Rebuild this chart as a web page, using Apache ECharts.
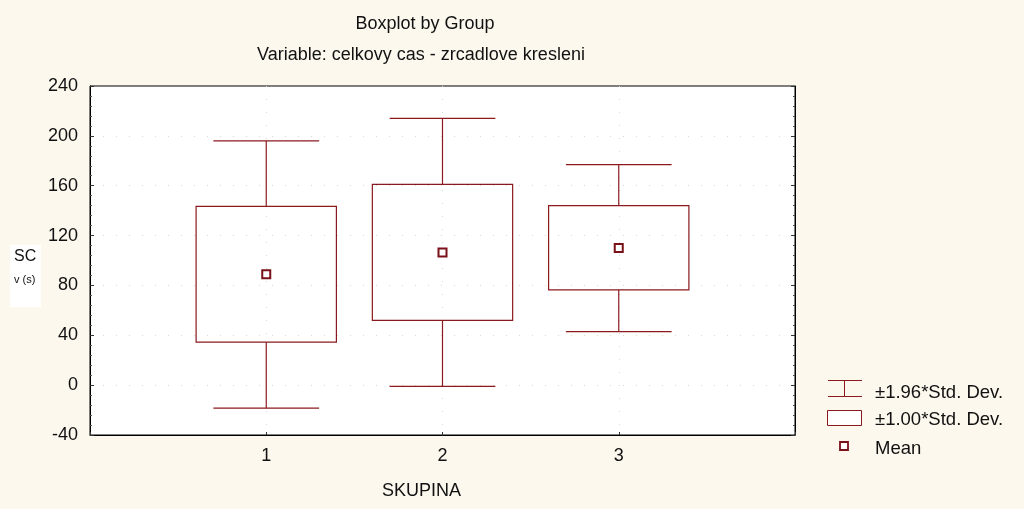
<!DOCTYPE html>
<html>
<head>
<meta charset="utf-8">
<script src="https://cdn.jsdelivr.net/npm/echarts@6/dist/echarts.min.js"></script>
<style>
  html, body { margin: 0; padding: 0; background: #fcf8ee; }
  #chart { width: 1024px; height: 509px; }
</style>
</head>
<body>
<div id="chart"></div>
<script>
// groups on the x axis
var groups = ["1", "2", "3"];
// values (s)
var whiskerLow = [-18.5, -1, 43];
var boxLow = [34.5, 52, 76.5];
var means = [89, 106.5, 110];
var boxHigh = [143.5, 161, 144];
var whiskerHigh = [196, 214, 177];
var yTicks = [-40, 0, 40, 80, 120, 160, 200, 240];

var red = "#8b1a1f";
var font = "Liberation Sans, Arial, sans-serif";

var rows = groups.map(function (g, i) {
  return [i + 1, whiskerLow[i], boxLow[i], means[i], boxHigh[i], whiskerHigh[i]];
});

var myChart = echarts.init(document.getElementById("chart"));

var dotted = { show: true, showMinLine: false, showMaxLine: false, lineStyle: { color: "#d6d6d6", type: [1, 12] } };

var yBase = {
  type: "value",
  min: yTicks[0], max: yTicks[yTicks.length - 1], interval: 40,
  axisLine: { onZero: false, lineStyle: { color: "#000" } },
  axisTick: { inside: true, length: 4, lineStyle: { color: "#333" } },
  minorTick: { show: true, splitNumber: 5, length: 2, lineStyle: { color: "#555" } }
};

var option = {
  backgroundColor: "#fcf8ee",
  animation: false,
  title: [
    {
      text: "Boxplot by Group",
      left: 420, top: 10, textAlign: "center",
      textStyle: { fontFamily: font, fontSize: 18, fontWeight: "normal", color: "#111" }
    },
    {
      text: "Variable: celkovy cas - zrcadlove kresleni",
      left: 416, top: 41, textAlign: "center",
      textStyle: { fontFamily: font, fontSize: 18, fontWeight: "normal", color: "#111" }
    }
  ],
  grid: { left: 90, right: 229, top: 86, bottom: 74, show: true, backgroundColor: "#fff", borderColor: "#000", borderWidth: 1 },
  xAxis: {
    type: "value",
    min: 0, max: 4, interval: 1,
    axisLine: { onZero: false, lineStyle: { color: "#000" } },
    axisTick: { inside: true, length: 3, lineStyle: { color: "#333" } },
    axisLabel: {
      fontFamily: font, fontSize: 18, color: "#111", margin: 12,
      formatter: function (v) { return groups[v - 1] || ""; }
    },
    splitLine: dotted
  },
  yAxis: [
    Object.assign({}, yBase, {
      axisLabel: { fontFamily: font, fontSize: 18, color: "#111", margin: 12 },
      splitLine: dotted
    }),
    Object.assign({}, yBase, {
      position: "right",
      axisLabel: { show: false },
      splitLine: { show: false }
    })
  ],
  graphic: [
    { type: "rect", left: 10, top: 245, shape: { width: 31, height: 62 }, style: { fill: "#fff" } },
    { type: "text", left: 14, top: 249, style: { text: "SC", font: "16px " + font, fill: "#111" } },
    { type: "text", left: 14, top: 274, style: { text: "v (s)", font: "11px " + font, fill: "#111" } },
    { type: "text", left: 382, top: 482, style: { text: "SKUPINA", font: "18px " + font, fill: "#111" } },
    // legend
    { type: "line", shape: { x1: 828, y1: 380.5, x2: 862, y2: 380.5 }, style: { stroke: red, lineWidth: 1 } },
    { type: "line", shape: { x1: 828, y1: 396.5, x2: 862, y2: 396.5 }, style: { stroke: red, lineWidth: 1 } },
    { type: "line", shape: { x1: 844.5, y1: 380, x2: 844.5, y2: 396 }, style: { stroke: red, lineWidth: 1 } },
    { type: "rect", shape: { x: 827.5, y: 410.5, width: 34, height: 15 }, style: { fill: "#fff", stroke: red, lineWidth: 1 } },
    { type: "rect", shape: { x: 840, y: 442, width: 8, height: 8 }, style: { fill: "#fff", stroke: "#7a1018", lineWidth: 1.8 } },
    { type: "text", left: 875, top: 383, style: { text: "±1.96*Std. Dev.", font: "18.5px " + font, fill: "#111" } },
    { type: "text", left: 875, top: 410, style: { text: "±1.00*Std. Dev.", font: "18.5px " + font, fill: "#111" } },
    { type: "text", left: 875, top: 439, style: { text: "Mean", font: "18.5px " + font, fill: "#111" } }
  ],
  series: [
    {
      type: "custom",
      data: rows,
      renderItem: function (params, api) {
        var x = api.value(0);
        var cHi = api.coord([x, api.value(5)]);
        var bHi = api.coord([x, api.value(4)]);
        var m = api.coord([x, api.value(3)]);
        var bLo = api.coord([x, api.value(2)]);
        var cLo = api.coord([x, api.value(1)]);
        var halfBox = api.size([0.4, 0])[0] * 0.995;
        var halfCap = api.size([0.3, 0])[0];
        var ls = { stroke: red, lineWidth: 1.2, fill: "none" };
        return {
          type: "group",
          children: [
            { type: "line", shape: { x1: cHi[0] - halfCap, y1: cHi[1], x2: cHi[0] + halfCap, y2: cHi[1] }, style: ls },
            { type: "line", shape: { x1: cHi[0], y1: cHi[1], x2: bHi[0], y2: bHi[1] }, style: ls },
            { type: "rect", shape: { x: bHi[0] - halfBox, y: bHi[1], width: halfBox * 2, height: bLo[1] - bHi[1] }, style: ls },
            { type: "line", shape: { x1: bLo[0], y1: bLo[1], x2: cLo[0], y2: cLo[1] }, style: ls },
            { type: "line", shape: { x1: cLo[0] - halfCap, y1: cLo[1], x2: cLo[0] + halfCap, y2: cLo[1] }, style: ls },
            { type: "rect", shape: { x: m[0] - 4, y: m[1] - 4, width: 8, height: 8 }, style: { stroke: "#7a1018", lineWidth: 2, fill: "#fff" } }
          ]
        };
      }
    }
  ]
};

myChart.setOption(option);
</script>
</body>
</html>
